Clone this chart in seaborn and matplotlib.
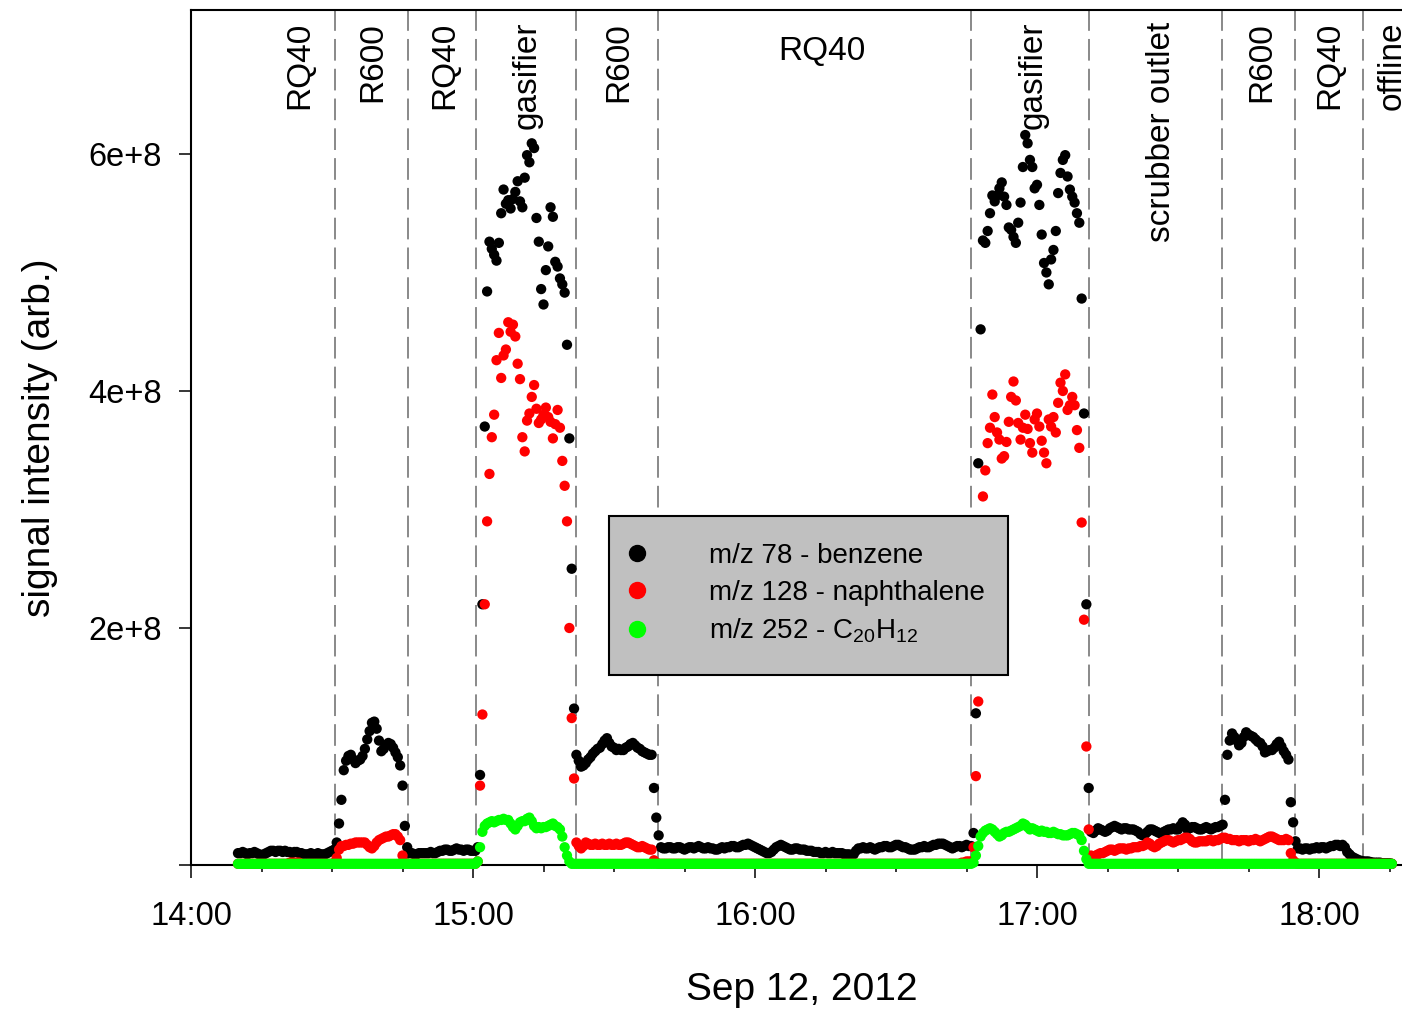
import numpy as np
import pandas as pd
import matplotlib
matplotlib.use("Agg")
import matplotlib.pyplot as plt
import matplotlib.dates as mdates
from matplotlib.lines import Line2D
from matplotlib.patches import Rectangle
from matplotlib.ticker import FuncFormatter
import seaborn as sns

# one reading every 30 s starting 14:10:00
start_time = "2012-09-12 14:10:00"
sample_step = "30s"

# signal intensity in units of 1e7, 20 readings (10 min) per row
benzene = [
    1.0, 1.0, 1.1, 1.0, 0.9, 1.0, 1.0, 1.1, 1.0, 0.9, 0.85, 0.9, 1.0, 1.1, 1.2, 1.2, 1.1, 1.2, 1.2, 1.1,
    1.2, 1.1, 1.1, 1.0, 1.1, 1.1, 1.0, 1.0, 0.9, 0.9, 0.9, 1.0, 0.9, 0.9, 1.0, 0.9, 0.9, 0.9, 1.0, 1.1,
    1.2, 1.3, 1.9, 3.5, 5.5, 8.0, 8.8, 9.2, 9.3, 8.9, 8.6, 8.8, 8.9, 9.2, 9.8, 10.6, 11.3, 12.0, 12.1, 11.5,
    10.5, 9.6, 9.8, 10.1, 10.3, 10.2, 9.9, 9.5, 9.1, 8.4, 6.7, 3.3, 1.5, 1.0, 1.0, 0.9, 0.9, 1.0, 1.0, 1.0,
    1.0, 1.0, 1.1, 1.0, 1.0, 1.1, 1.2, 1.2, 1.3, 1.3, 1.2, 1.2, 1.3, 1.4, 1.3, 1.3, 1.2, 1.3, 1.3, 1.2,
    1.2, 1.2, 1.5, 7.6, 22.0, 37.0, 48.4, 52.6, 52.0, 51.5, 51.0, 52.5, 55.0, 57.0, 55.8, 56.1, 55.4, 56.2, 56.8, 57.7,
    56.0, 55.5, 58.0, 59.9, 59.3, 60.9, 60.5, 54.6, 52.6, 48.6, 47.3, 50.2, 52.2, 55.5, 54.7, 50.9, 50.5, 49.5, 49.0, 48.3,
    43.9, 36.0, 25.0, 13.2, 9.3, 8.8, 8.3, 8.4, 8.6, 8.9, 9.1, 9.4, 9.6, 9.8, 9.9, 10.2, 10.5, 10.7, 10.3, 10.0,
    9.9, 9.7, 9.8, 9.7, 9.7, 9.9, 10.0, 10.2, 10.3, 10.1, 9.9, 9.8, 9.6, 9.5, 9.4, 9.3, 9.3, 6.5, 4.0, 2.5,
    1.5, 1.4, 1.4, 1.5, 1.5, 1.4, 1.4, 1.5, 1.5, 1.4, 1.3, 1.4, 1.5, 1.5, 1.4, 1.5, 1.6, 1.5, 1.4, 1.4,
    1.5, 1.4, 1.4, 1.3, 1.3, 1.4, 1.5, 1.4, 1.5, 1.5, 1.6, 1.6, 1.5, 1.5, 1.6, 1.7, 1.7, 1.8, 1.7, 1.6,
    1.5, 1.4, 1.3, 1.2, 1.1, 1.0, 1.0, 1.1, 1.3, 1.5, 1.6, 1.7, 1.6, 1.5, 1.4, 1.3, 1.3, 1.4, 1.4, 1.3,
    1.3, 1.3, 1.2, 1.2, 1.2, 1.1, 1.1, 1.1, 1.0, 1.0, 1.1, 1.0, 1.0, 1.1, 1.0, 1.0, 1.0, 1.0, 0.9, 0.9,
    0.9, 0.85, 0.9, 1.2, 1.4, 1.4, 1.5, 1.4, 1.4, 1.5, 1.4, 1.3, 1.4, 1.5, 1.5, 1.6, 1.6, 1.5, 1.5, 1.6,
    1.7, 1.7, 1.6, 1.5, 1.5, 1.4, 1.3, 1.3, 1.3, 1.4, 1.5, 1.5, 1.6, 1.5, 1.5, 1.6, 1.7, 1.7, 1.8, 1.8,
    1.8, 1.7, 1.6, 1.5, 1.4, 1.5, 1.6, 1.6, 1.5, 1.6, 1.7, 1.6, 1.6, 2.7, 12.8, 33.9, 45.2, 52.7, 52.5, 53.5,
    55.0, 56.5, 56.0, 56.5, 57.1, 57.6, 56.4, 55.7, 53.8, 53.6, 53.0, 52.5, 54.2, 55.9, 58.9, 61.6, 60.9, 59.5, 58.9, 57.1,
    57.4, 55.7, 53.2, 50.8, 50.0, 49.0, 51.1, 51.9, 53.5, 56.7, 58.4, 59.5, 59.9, 58.1, 57.0, 56.4, 55.9, 55.0, 54.2, 47.8,
    38.1, 22.0, 6.5, 2.8, 2.7, 2.9, 3.1, 3.0, 2.9, 2.8, 2.9, 3.1, 3.2, 3.3, 3.2, 3.1, 3.0, 3.1, 3.1, 3.0,
    3.0, 3.0, 2.9, 2.8, 2.6, 2.5, 2.6, 2.8, 3.0, 3.0, 2.9, 2.8, 2.7, 2.7, 2.8, 2.9, 3.0, 3.0, 3.1, 3.0,
    3.0, 3.3, 3.6, 3.4, 3.0, 3.1, 3.2, 3.2, 3.1, 3.0, 3.0, 3.1, 3.2, 3.1, 3.0, 3.1, 3.2, 3.2, 3.3, 3.4,
    5.5, 9.3, 10.5, 11.1, 10.8, 10.5, 10.1, 10.3, 10.8, 11.2, 11.0, 10.9, 10.8, 10.6, 10.4, 10.3, 10.0, 9.5, 9.6, 9.7,
    9.7, 9.9, 10.2, 10.4, 10.0, 9.6, 9.3, 8.9, 5.3, 3.6, 2.0, 1.4, 1.4, 1.3, 1.4, 1.4, 1.3, 1.4, 1.4, 1.5,
    1.4, 1.5, 1.5, 1.4, 1.5, 1.6, 1.6, 1.7, 1.7, 1.6, 1.7, 1.5, 1.1, 0.9, 0.7, 0.6, 0.5, 0.4, 0.35, 0.3,
    0.3, 0.3, 0.25, 0.2, 0.2, 0.2, 0.2, 0.15, 0.15, 0.15, 0.15, 0.1,
]

naphthalene = [
    0.1, 0.1, 0.1, 0.1, 0.1, 0.1, 0.1, 0.1, 0.1, 0.1, 0.1, 0.1, 0.1, 0.1, 0.1, 0.1, 0.1, 0.1, 0.1, 0.1,
    0.1, 0.1, 0.2, 0.2, 0.2, 0.2, 0.2, 0.1, 0.1, 0.1, 0.1, 0.1, 0.1, 0.1, 0.1, 0.1, 0.1, 0.1, 0.1, 0.1,
    0.1, 0.2, 0.6, 1.3, 1.6, 1.6, 1.7, 1.7, 1.8, 1.8, 1.9, 1.9, 1.9, 1.9, 1.9, 1.7, 1.5, 1.4, 1.6, 1.9,
    2.1, 2.2, 2.3, 2.4, 2.4, 2.5, 2.6, 2.6, 2.4, 2.1, 0.8, 0.2, 0.1, 0.1, 0.1, 0.1, 0.1, 0.1, 0.1, 0.1,
    0.1, 0.1, 0.1, 0.1, 0.1, 0.1, 0.1, 0.1, 0.1, 0.1, 0.1, 0.1, 0.1, 0.1, 0.1, 0.1, 0.1, 0.1, 0.1, 0.1,
    0.1, 0.1, 0.3, 6.7, 12.7, 22.0, 29.0, 33.0, 36.1, 38.0, 42.6, 44.9, 41.1, 43.0, 43.5, 45.8, 45.0, 45.6, 44.6, 42.3,
    41.0, 36.1, 34.9, 37.5, 38.1, 39.5, 40.5, 38.5, 37.3, 37.6, 38.0, 38.6, 37.8, 37.4, 36.0, 37.2, 38.4, 36.9, 34.1, 32.0,
    29.0, 20.0, 12.4, 7.3, 1.9, 1.6, 1.4, 1.6, 1.9, 1.8, 1.7, 1.7, 1.8, 1.7, 1.7, 1.8, 1.7, 1.7, 1.8, 1.7,
    1.7, 1.8, 1.7, 1.7, 1.8, 1.9, 1.9, 1.8, 1.7, 1.6, 1.5, 1.5, 1.6, 1.5, 1.4, 1.3, 1.3, 0.4, 0.2, 0.1,
    0.1, 0.1, 0.1, 0.1, 0.1, 0.1, 0.1, 0.1, 0.1, 0.1, 0.1, 0.1, 0.1, 0.1, 0.1, 0.1, 0.1, 0.1, 0.1, 0.1,
    0.1, 0.1, 0.1, 0.1, 0.1, 0.1, 0.1, 0.1, 0.1, 0.1, 0.1, 0.1, 0.1, 0.1, 0.1, 0.1, 0.1, 0.1, 0.1, 0.1,
    0.1, 0.1, 0.1, 0.1, 0.1, 0.1, 0.1, 0.1, 0.1, 0.1, 0.1, 0.1, 0.1, 0.1, 0.1, 0.1, 0.1, 0.1, 0.1, 0.1,
    0.1, 0.1, 0.1, 0.1, 0.1, 0.1, 0.1, 0.1, 0.1, 0.1, 0.1, 0.1, 0.1, 0.1, 0.1, 0.1, 0.1, 0.1, 0.1, 0.1,
    0.1, 0.1, 0.1, 0.1, 0.1, 0.1, 0.1, 0.1, 0.1, 0.1, 0.1, 0.1, 0.1, 0.1, 0.1, 0.1, 0.1, 0.1, 0.1, 0.1,
    0.1, 0.1, 0.1, 0.1, 0.1, 0.1, 0.1, 0.1, 0.1, 0.1, 0.1, 0.1, 0.1, 0.1, 0.1, 0.1, 0.1, 0.1, 0.1, 0.1,
    0.1, 0.1, 0.1, 0.1, 0.1, 0.1, 0.1, 0.1, 0.2, 0.2, 0.3, 0.3, 0.3, 1.5, 7.5, 13.8, 24.0, 31.1, 33.3, 35.6,
    36.9, 39.7, 37.8, 36.5, 35.9, 34.3, 34.5, 35.7, 37.4, 39.5, 40.8, 39.2, 37.3, 35.9, 36.9, 38.0, 36.8, 35.6, 34.8, 37.6,
    38.1, 37.0, 35.8, 34.8, 33.9, 37.6, 37.0, 37.8, 36.5, 39.0, 40.7, 40.0, 41.4, 38.4, 38.8, 39.5, 38.8, 36.7, 35.2, 28.9,
    20.7, 10.0, 3.0, 0.8, 0.7, 0.8, 0.9, 1.0, 1.0, 1.1, 1.2, 1.3, 1.3, 1.2, 1.3, 1.4, 1.4, 1.4, 1.3, 1.4,
    1.4, 1.5, 1.5, 1.5, 1.6, 1.6, 1.7, 1.9, 1.8, 1.6, 1.5, 1.6, 1.8, 1.9, 2.0, 2.1, 2.1, 2.0, 1.9, 2.0,
    2.1, 2.1, 2.2, 2.3, 2.3, 2.2, 2.0, 1.9, 1.9, 2.0, 2.0, 2.0, 2.0, 2.1, 2.1, 2.0, 2.1, 2.1, 2.2, 2.3,
    2.3, 2.2, 2.2, 2.1, 2.1, 2.1, 2.0, 2.1, 2.1, 2.1, 2.0, 2.1, 2.1, 2.2, 2.1, 2.0, 2.1, 2.2, 2.3, 2.4,
    2.4, 2.3, 2.2, 2.1, 2.1, 2.1, 2.2, 2.1, 1.0, 0.4, 0.2, 0.1, 0.1, 0.1, 0.1, 0.1, 0.1, 0.1, 0.1, 0.1,
    0.1, 0.1, 0.1, 0.1, 0.1, 0.1, 0.1, 0.1, 0.1, 0.1, 0.1, 0.1, 0.1, 0.1, 0.1, 0.1, 0.1, 0.1, 0.1, 0.1,
    0.1, 0.1, 0.1, 0.1, 0.1, 0.1, 0.1, 0.1, 0.1, 0.1, 0.1, 0.1,
]

c20h12 = [
    0.1, 0.1, 0.1, 0.1, 0.1, 0.1, 0.1, 0.1, 0.1, 0.1, 0.1, 0.1, 0.1, 0.1, 0.1, 0.1, 0.1, 0.1, 0.1, 0.1,
    0.1, 0.1, 0.1, 0.1, 0.1, 0.1, 0.1, 0.1, 0.1, 0.1, 0.1, 0.1, 0.1, 0.1, 0.1, 0.1, 0.1, 0.1, 0.1, 0.1,
    0.1, 0.1, 0.1, 0.1, 0.1, 0.1, 0.1, 0.1, 0.1, 0.1, 0.1, 0.1, 0.1, 0.1, 0.1, 0.1, 0.1, 0.1, 0.1, 0.1,
    0.1, 0.1, 0.1, 0.1, 0.1, 0.1, 0.1, 0.1, 0.1, 0.1, 0.1, 0.1, 0.1, 0.1, 0.1, 0.1, 0.1, 0.1, 0.1, 0.1,
    0.1, 0.1, 0.1, 0.1, 0.1, 0.1, 0.1, 0.1, 0.1, 0.1, 0.1, 0.1, 0.1, 0.1, 0.1, 0.1, 0.1, 0.1, 0.1, 0.1,
    0.1, 0.1, 0.3, 1.5, 2.8, 3.3, 3.5, 3.6, 3.7, 3.6, 3.7, 3.8, 3.8, 3.9, 3.8, 3.8, 3.5, 3.2, 3.0, 3.3,
    3.6, 3.7, 3.7, 3.9, 4.0, 3.7, 3.3, 3.1, 3.2, 3.1, 3.2, 3.2, 3.3, 3.4, 3.5, 3.3, 3.2, 3.0, 2.4, 1.5,
    0.8, 0.3, 0.1, 0.1, 0.1, 0.1, 0.1, 0.1, 0.1, 0.1, 0.1, 0.1, 0.1, 0.1, 0.1, 0.1, 0.1, 0.1, 0.1, 0.1,
    0.1, 0.1, 0.1, 0.1, 0.1, 0.1, 0.1, 0.1, 0.1, 0.1, 0.1, 0.1, 0.1, 0.1, 0.1, 0.1, 0.1, 0.1, 0.1, 0.1,
    0.1, 0.1, 0.1, 0.1, 0.1, 0.1, 0.1, 0.1, 0.1, 0.1, 0.1, 0.1, 0.1, 0.1, 0.1, 0.1, 0.1, 0.1, 0.1, 0.1,
    0.1, 0.1, 0.1, 0.1, 0.1, 0.1, 0.1, 0.1, 0.1, 0.1, 0.1, 0.1, 0.1, 0.1, 0.1, 0.1, 0.1, 0.1, 0.1, 0.1,
    0.1, 0.1, 0.1, 0.1, 0.1, 0.1, 0.1, 0.1, 0.1, 0.1, 0.1, 0.1, 0.1, 0.1, 0.1, 0.1, 0.1, 0.1, 0.1, 0.1,
    0.1, 0.1, 0.1, 0.1, 0.1, 0.1, 0.1, 0.1, 0.1, 0.1, 0.1, 0.1, 0.1, 0.1, 0.1, 0.1, 0.1, 0.1, 0.1, 0.1,
    0.1, 0.1, 0.1, 0.1, 0.1, 0.1, 0.1, 0.1, 0.1, 0.1, 0.1, 0.1, 0.1, 0.1, 0.1, 0.1, 0.1, 0.1, 0.1, 0.1,
    0.1, 0.1, 0.1, 0.1, 0.1, 0.1, 0.1, 0.1, 0.1, 0.1, 0.1, 0.1, 0.1, 0.1, 0.1, 0.1, 0.1, 0.1, 0.1, 0.1,
    0.1, 0.1, 0.1, 0.1, 0.1, 0.1, 0.1, 0.1, 0.1, 0.1, 0.1, 0.1, 0.1, 0.2, 0.8, 1.6, 2.4, 2.7, 2.9, 3.0,
    3.1, 3.0, 2.8, 2.6, 2.4, 2.5, 2.7, 2.8, 2.8, 2.9, 3.0, 3.1, 3.2, 3.3, 3.5, 3.4, 3.2, 3.0, 3.1, 3.0,
    2.9, 2.8, 2.9, 2.8, 2.8, 2.7, 2.7, 2.8, 2.7, 2.6, 2.6, 2.5, 2.5, 2.5, 2.6, 2.7, 2.7, 2.6, 2.5, 2.1,
    1.2, 0.5, 0.1, 0.1, 0.1, 0.1, 0.1, 0.1, 0.1, 0.1, 0.1, 0.1, 0.1, 0.1, 0.1, 0.1, 0.1, 0.1, 0.1, 0.1,
    0.1, 0.1, 0.1, 0.1, 0.1, 0.1, 0.1, 0.1, 0.1, 0.1, 0.1, 0.1, 0.1, 0.1, 0.1, 0.1, 0.1, 0.1, 0.1, 0.1,
    0.1, 0.1, 0.1, 0.1, 0.1, 0.1, 0.1, 0.1, 0.1, 0.1, 0.1, 0.1, 0.1, 0.1, 0.1, 0.1, 0.1, 0.1, 0.1, 0.1,
    0.1, 0.1, 0.1, 0.1, 0.1, 0.1, 0.1, 0.1, 0.1, 0.1, 0.1, 0.1, 0.1, 0.1, 0.1, 0.1, 0.1, 0.1, 0.1, 0.1,
    0.1, 0.1, 0.1, 0.1, 0.1, 0.1, 0.1, 0.1, 0.1, 0.1, 0.1, 0.1, 0.1, 0.1, 0.1, 0.1, 0.1, 0.1, 0.1, 0.1,
    0.1, 0.1, 0.1, 0.1, 0.1, 0.1, 0.1, 0.1, 0.1, 0.1, 0.1, 0.1, 0.1, 0.1, 0.1, 0.1, 0.1, 0.1, 0.1, 0.1,
    0.1, 0.1, 0.1, 0.1, 0.1, 0.1, 0.1, 0.1, 0.1, 0.1, 0.1, 0.1,
]

series_names = ["m/z 78 - benzene", "m/z 128 - naphthalene",
                r"m/z 252 - C$\mathregular{_{20}}$H$\mathregular{_{12}}$"]
series_colors = ["#000000", "#ff0000", "#00ff00"]

# sampling point switches (dashed lines)
switch_times = ["14:30:40", "14:46:10", "15:00:40", "15:21:55", "15:39:25",
                "16:46:00", "17:11:05", "17:39:25", "17:54:55", "18:09:25"]
region_labels = ["RQ40", "R600", "RQ40", "gasifier", "R600", "RQ40",
                 "gasifier", "scrubber outlet", "R600", "RQ40", "offline"]
region_label_times = ["14:23:10", "14:38:40", "14:54:00", "15:11:30", "15:30:55", "16:14:20",
                      "16:59:05", "17:26:35", "17:47:55", "18:02:20", "18:15:30"]
region_label_rotation = [90, 90, 90, 90, 90, 0, 90, 90, 90, 90, 90]

day = "2012-09-12 "

sns.set_style("ticks")
plt.rcParams["font.family"] = ["Liberation Sans", "DejaVu Sans"]
plt.rcParams["mathtext.fontset"] = "custom"
plt.rcParams["mathtext.rm"] = "Liberation Sans"
for key in ["text.color", "axes.labelcolor", "xtick.color", "ytick.color"]:
    plt.rcParams[key] = "black"

n = len(benzene)
times = pd.date_range(start_time, periods=n, freq=sample_step)
df = pd.DataFrame({
    "time": np.tile(times, 3),
    "signal": np.concatenate([benzene, naphthalene, c20h12]) * 1e7,
    "series": np.repeat(series_names, n),
})

fig = plt.figure(figsize=(14.02, 10.09), dpi=100)
ax = fig.add_axes([191 / 1402, 144 / 1009, 1222 / 1402, 855 / 1009])

for t in switch_times:
    ax.axvline(pd.Timestamp(day + t), color="#808080", lw=1.3,
               ls=(0, (12, 4.5)), zorder=1)

sns.scatterplot(data=df, x="time", y="signal", hue="series",
                palette=dict(zip(series_names, series_colors)),
                s=55, linewidth=0, legend=False, ax=ax, clip_on=False, zorder=3)

ax.set_xlim(pd.Timestamp(day + "14:00"), pd.Timestamp(day + "18:20"))
ax.set_ylim(0, 7.215e8)

ax.xaxis.set_major_locator(mdates.HourLocator())
ax.xaxis.set_minor_locator(mdates.MinuteLocator(byminute=[15, 30, 45]))
ax.xaxis.set_major_formatter(mdates.DateFormatter("%H:%M"))
ax.set_yticks([0, 2e8, 4e8, 6e8])
ax.yaxis.set_major_formatter(FuncFormatter(lambda v, p: "" if v == 0 else f"{v / 1e8:.0f}e+8"))

ax.tick_params(which="major", direction="out", length=9, width=1.1,
               labelsize=23.5, color="black")
ax.tick_params(axis="y", pad=12)
ax.tick_params(axis="x", pad=17)
ax.tick_params(which="minor", direction="out", length=5, width=1.1)
for side in ["left", "bottom", "top"]:
    ax.spines[side].set_linewidth(1.5)
    ax.spines[side].set_color("black")
ax.spines["right"].set_visible(False)

ax.set_xlabel("Sep 12, 2012", fontsize=28, labelpad=29)
ax.set_ylabel("signal intensity (arb.)", fontsize=28, labelpad=22)

for lbl, t, rot in zip(region_labels, region_label_times, region_label_rotation):
    if rot == 0:
        ax.text(pd.Timestamp(day + t), 0.951, lbl, transform=ax.get_xaxis_transform(),
                ha="center", va="center", fontsize=24)
    else:
        ax.text(pd.Timestamp(day + t), 0.986, lbl, transform=ax.get_xaxis_transform(),
                rotation=90, ha="center", va="top", fontsize=24)

# legend box
ax.add_patch(Rectangle((0.3421, 0.2222), 0.3265, 0.186, transform=ax.transAxes,
                       facecolor="#c0c0c0", edgecolor="black", lw=1.5, zorder=4))
handles = [Line2D([], [], marker="o", ls="", color=c, markersize=11.5) for c in series_colors]
leg = ax.legend(handles, series_names, loc="upper left", bbox_to_anchor=(0.3421, 0.377),
                bbox_transform=ax.transAxes, frameon=False, fontsize=20,
                handlelength=2.0, handletextpad=1.6, borderpad=0, borderaxespad=0,
                labelspacing=0.4)
leg.set_zorder(5)

fig.savefig("out.png", dpi=100)
